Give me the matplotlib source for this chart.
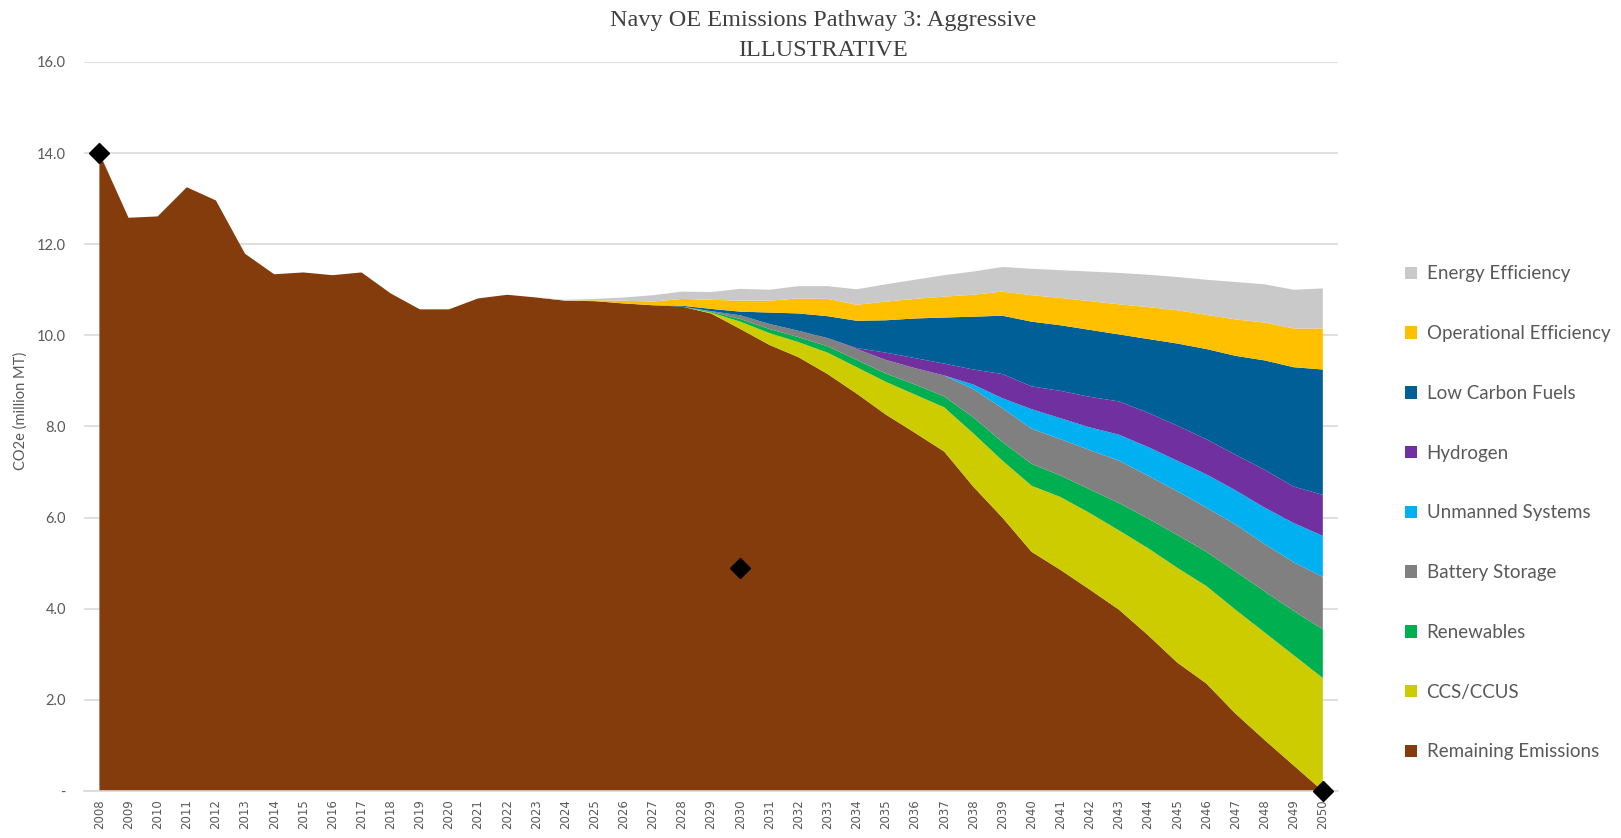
import numpy as np
import matplotlib
matplotlib.use("Agg")
from matplotlib import pyplot as plt
from matplotlib.patches import Patch

years = list(range(2008, 2051))

# Emissions by year, million MT CO2e; reduction wedges start in the mid 2020s
remaining = [14.00, 12.58, 12.61, 13.25, 12.96, 11.79, 11.34, 11.38, 11.32, 11.38,
             10.92, 10.57, 10.57, 10.81, 10.89, 10.83,
             10.76, 10.75, 10.70, 10.66, 10.63, 10.48, 10.14, 9.79, 9.52, 9.15,
             8.72, 8.26, 7.86, 7.45, 6.68, 6.00, 5.25, 4.85, 4.42, 3.98,
             3.42, 2.82, 2.36, 1.70, 1.12, 0.56, 0.00]

pad = [0.0] * 16  # 2008-2023, no wedges yet

ccs = pad + [0, 0, 0, 0, 0, 0.02, 0.16, 0.26, 0.33, 0.47, 0.58, 0.72, 0.84, 0.97,
             1.17, 1.25, 1.45, 1.60, 1.68, 1.74, 1.91, 2.08, 2.14, 2.28, 2.36, 2.42, 2.48]
renewables = pad + [0, 0, 0, 0, 0, 0.02, 0.06, 0.09, 0.11, 0.14, 0.16, 0.18, 0.22, 0.24,
                    0.35, 0.41, 0.48, 0.47, 0.52, 0.60, 0.65, 0.72, 0.75, 0.84, 0.90, 0.97, 1.07]
battery = pad + [0, 0, 0, 0, 0, 0.01, 0.08, 0.11, 0.14, 0.18, 0.24, 0.30, 0.36, 0.46,
                 0.62, 0.74, 0.77, 0.80, 0.86, 0.93, 0.94, 0.96, 0.97, 1.03, 1.04, 1.07, 1.15]
unmanned = pad + [0, 0, 0, 0, 0, 0, 0, 0, 0, 0, 0, 0, 0, 0,
                  0.10, 0.22, 0.43, 0.46, 0.50, 0.57, 0.63, 0.67, 0.73, 0.75, 0.80, 0.86, 0.90]
hydrogen = pad + [0, 0, 0, 0, 0, 0, 0, 0, 0, 0, 0.02, 0.16, 0.22, 0.26,
                  0.33, 0.53, 0.50, 0.60, 0.67, 0.73, 0.75, 0.77, 0.77, 0.78, 0.83, 0.80, 0.90]
low_carbon = pad + [0, 0, 0, 0, 0.02, 0.05, 0.08, 0.25, 0.38, 0.48, 0.60, 0.71, 0.87, 1.01,
                    1.16, 1.28, 1.42, 1.44, 1.47, 1.47, 1.62, 1.80, 1.98, 2.17, 2.40, 2.62, 2.75]
operational = pad + [0, 0.02, 0.06, 0.08, 0.15, 0.20, 0.24, 0.26, 0.33, 0.38, 0.35, 0.41, 0.43, 0.46,
                     0.48, 0.53, 0.58, 0.60, 0.63, 0.66, 0.70, 0.73, 0.75, 0.80, 0.83, 0.85, 0.90]
energy = pad + [0.02, 0.03, 0.07, 0.14, 0.16, 0.17, 0.26, 0.24, 0.27, 0.28, 0.34, 0.38, 0.42, 0.47,
                0.51, 0.54, 0.58, 0.61, 0.65, 0.69, 0.71, 0.73, 0.77, 0.82, 0.84, 0.85, 0.88]

labels = ["Remaining Emissions", "CCS/CCUS", "Renewables", "Battery Storage",
          "Unmanned Systems", "Hydrogen", "Low Carbon Fuels",
          "Operational Efficiency", "Energy Efficiency"]
colors = ["#843C0C", "#CCCC00", "#00B050", "#808080", "#00B0F0",
          "#7030A0", "#005F96", "#FFC000", "#C9C9C9"]

# target points
target_years = [2008, 2030, 2050]
target_values = [14.0, 4.9, 0.0]

yticks = [0, 2, 4, 6, 8, 10, 12, 14, 16]
ytick_labels = ["-", "2.0", "4.0", "6.0", "8.0", "10.0", "12.0", "14.0", "16.0"]

text_gray = "#595959"

fig = plt.figure(figsize=(16.21, 8.38), dpi=100)
ax = fig.add_axes([0.0518, 0.0561, 0.7736, 0.870])

series = [remaining, ccs, renewables, battery, unmanned, hydrogen,
          low_carbon, operational, energy]
ax.stackplot(years, *series, colors=colors, labels=labels, linewidth=0, zorder=2)

ax.plot(target_years, target_values, linestyle="none", marker="D",
        markersize=10, color="black", zorder=4, clip_on=False)

ax.set_xlim(2007.47, 2050.52)
ax.set_ylim(0, 16)
ax.set_yticks(yticks)
ax.set_yticklabels(ytick_labels, fontsize=10.5, color=text_gray, family="Lato")
ax.set_xticks(years)
ax.set_xticklabels([str(y) for y in years], rotation=90, fontsize=8.5,
                   color=text_gray, family="DejaVu Sans")
ax.tick_params(axis="both", length=0)
ax.tick_params(axis="y", pad=13)
ax.tick_params(axis="x", pad=6)

ax.grid(axis="y", color="#D9D9D9", linewidth=1.2, zorder=0)
ax.set_axisbelow(True)
for side in ["top", "right", "left"]:
    ax.spines[side].set_visible(False)
ax.spines["bottom"].set_color("#D9D9D9")
ax.spines["bottom"].set_linewidth(1.2)

fig.text(0.0125, 0.51, "CO2e (million MT)", rotation=90, ha="center", va="center",
         fontsize=10.5, color=text_gray, family="Lato")

fig.text(0.508, 0.976, "Navy OE Emissions Pathway 3: Aggressive", ha="center", va="center",
         fontsize=17.5, color="#404040", family="Liberation Serif")
fig.text(0.508, 0.940, "ILLUSTRATIVE", ha="center", va="center",
         fontsize=17.5, color="#404040", family="Liberation Serif")

handles = [Patch(facecolor=c, edgecolor="none") for c in colors][::-1]
leg = fig.legend(handles, labels[::-1], loc="center left",
                 bbox_to_anchor=(1405 / 1621, 0.388), frameon=False,
                 prop={"family": "Lato", "size": 13.5}, labelspacing=2.28,
                 handlelength=0.65, handleheight=0.65, handletextpad=0.5,
                 borderpad=0, borderaxespad=0)
for t in leg.get_texts():
    t.set_color(text_gray)

fig.savefig("out.png", dpi=100)
